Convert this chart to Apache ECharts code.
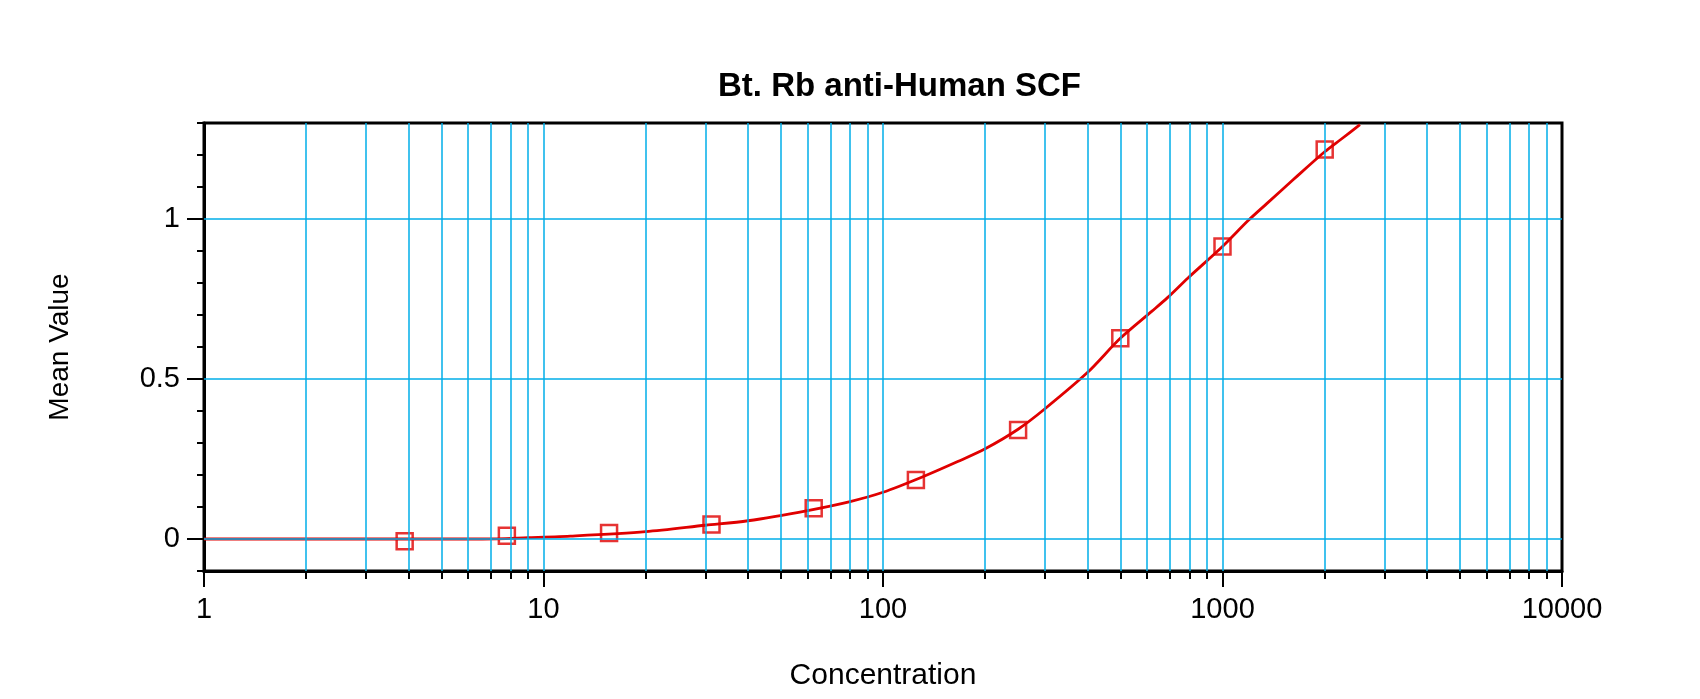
<!DOCTYPE html>
<html lang="en">
<head>
  <meta charset="UTF-8">
  <title>Bt. Rb anti-Human SCF</title>
  <script src="https://cdn.jsdelivr.net/npm/echarts@6/dist/echarts.min.js"></script>
  <style>
    html, body {
      margin: 0;
      padding: 0;
      background: #fff;
    }
    #container {
      width: 1700px;
      height: 699px;
    }
  </style>
</head>
<body>
  <div id="container"></div>
  <script>
    // standards (2-fold dilution series) and measured mean values
    const concentration = [3.9, 7.8, 15.6, 31.25, 62.5, 125, 250, 500, 1000, 2000];
    const meanValue = [-0.007, 0.010, 0.019, 0.045, 0.096, 0.184, 0.341, 0.627, 0.914, 1.217];

    // fitted curve
    const curveX = [1, 2, 4, 6.6, 9, 12, 20, 30, 40, 60, 80, 100, 130, 166, 200, 250, 300, 400,
      500, 620, 690, 790, 1000, 1190, 1350, 1620, 2000, 2240, 2540];
    const curveY = [0, 0, 0, 0, 0.004, 0.009, 0.023, 0.043, 0.057, 0.089, 0.117, 0.146, 0.193, 0.242,
      0.282, 0.343, 0.407, 0.520, 0.627, 0.712, 0.755, 0.815, 0.914, 0.995, 1.048, 1.124, 1.21, 1.25, 1.295];

    // axis ticks
    const xMajorTicks = [1, 10, 100, 1000, 10000];
    const xMinorTicks = [2, 3, 4, 5, 6, 7, 8, 9, 20, 30, 40, 50, 60, 70, 80, 90,
      200, 300, 400, 500, 600, 700, 800, 900, 2000, 3000, 4000, 5000, 6000, 7000, 8000, 9000];
    const xGridLines = [2, 3, 4, 5, 6, 7, 8, 9, 10, 20, 30, 40, 50, 60, 70, 80, 90, 100,
      200, 300, 400, 500, 600, 700, 800, 900, 1000, 2000, 3000, 4000, 5000, 6000, 7000, 8000, 9000];
    const yTickLabels = [0, 0.5, 1];

    const FONT = 'Arial, "Liberation Sans", sans-serif';
    const RED = '#e00000';
    const GRID_BLUE = '#00aee8';

    const curveData = curveX.map((x, i) => [x, curveY[i]]);
    const pointData = concentration.map((x, i) => [x, meanValue[i]]);

    const chart = echarts.init(document.getElementById('container'));

    const gridMarks = xGridLines.map(v => ({xAxis: v}))
      .concat(yTickLabels.map(v => ({yAxis: v})));

    const option = {
      animation: false,
      backgroundColor: '#fff',
      title: {
        text: 'Bt. Rb anti-Human SCF',
        left: 718,
        top: 70,
        padding: 0,
        textStyle: {
          fontFamily: FONT,
          fontWeight: 'bold',
          fontSize: 33,
          color: '#000',
        },
      },
      grid: {
        left: 204,
        right: 138,
        top: 123,
        bottom: 128,
        show: true,
        borderColor: '#000',
        borderWidth: 3,
        backgroundColor: 'transparent',
      },
      xAxis: [{
        type: 'log',
        logBase: 10,
        min: 1,
        max: 10000,
        name: 'Concentration',
        nameLocation: 'middle',
        nameGap: 90,
        nameTextStyle: {fontFamily: FONT, fontSize: 30, color: '#000'},
        axisLine: {show: true, onZero: false, lineStyle: {color: '#000', width: 3}},
        axisTick: {show: true, inside: false, length: 16, lineStyle: {color: '#000', width: 2}},
        axisLabel: {
          fontFamily: FONT, fontSize: 29, color: '#000', margin: 24,
          customValues: xMajorTicks,
          formatter: v => String(v),
        },
        splitLine: {show: false},
        minorTick: {show: false},
      }, {
        type: 'log',
        logBase: 10,
        min: 1,
        max: 10000,
        position: 'bottom',
        axisLine: {show: false, onZero: false},
        axisTick: {show: true, length: 8, customValues: xMinorTicks, lineStyle: {color: '#000', width: 2}},
        axisLabel: {show: false},
        splitLine: {show: false},
      }],
      yAxis: [{
        type: 'value',
        min: -0.1,
        max: 1.3,
        interval: 0.1,
        name: 'Mean Value',
        nameLocation: 'middle',
        nameGap: 130,
        nameTextStyle: {fontFamily: FONT, fontSize: 28, color: '#000'},
        axisLine: {show: true, onZero: false, lineStyle: {color: '#000', width: 3}},
        axisTick: {show: true, length: 7, lineStyle: {color: '#000', width: 2}},
        axisLabel: {show: false},
        splitLine: {show: false},
      }, {
        type: 'value',
        min: -0.1,
        max: 1.3,
        interval: 0.1,
        position: 'left',
        offset: 0,
        axisLine: {show: false, onZero: false},
        axisTick: {show: true, length: 17, customValues: yTickLabels, lineStyle: {color: '#000', width: 2}},
        axisLabel: {
          fontFamily: FONT, fontSize: 29, color: '#000', margin: 24,
          customValues: yTickLabels,
        },
        splitLine: {show: false},
      }],
      series: [{
        // carrier for the blue grid lines
        type: 'line',
        xAxisIndex: 0,
        yAxisIndex: 0,
        data: curveData,
        showSymbol: false,
        lineStyle: {opacity: 0},
        silent: true,
        z: 1,
        markLine: {
          silent: true,
          symbol: ['none', 'none'],
          label: {show: false},
          lineStyle: {color: GRID_BLUE, width: 1.5, type: 'solid'},
          emphasis: {disabled: true},
          data: gridMarks,
        },
      }, {
        name: 'fit',
        type: 'line',
        xAxisIndex: 0,
        yAxisIndex: 0,
        data: curveData,
        showSymbol: false,
        smooth: 0.3,
        clip: true,
        lineStyle: {color: RED, width: 2.8},
        z: 3,
      }, {
        name: 'standards',
        type: 'scatter',
        xAxisIndex: 0,
        yAxisIndex: 0,
        data: pointData,
        symbol: 'rect',
        symbolSize: 16,
        itemStyle: {color: 'transparent', borderColor: RED, borderWidth: 2.5},
        z: 4,
      }],
    };

    chart.setOption(option);
  </script>
</body>
</html>
